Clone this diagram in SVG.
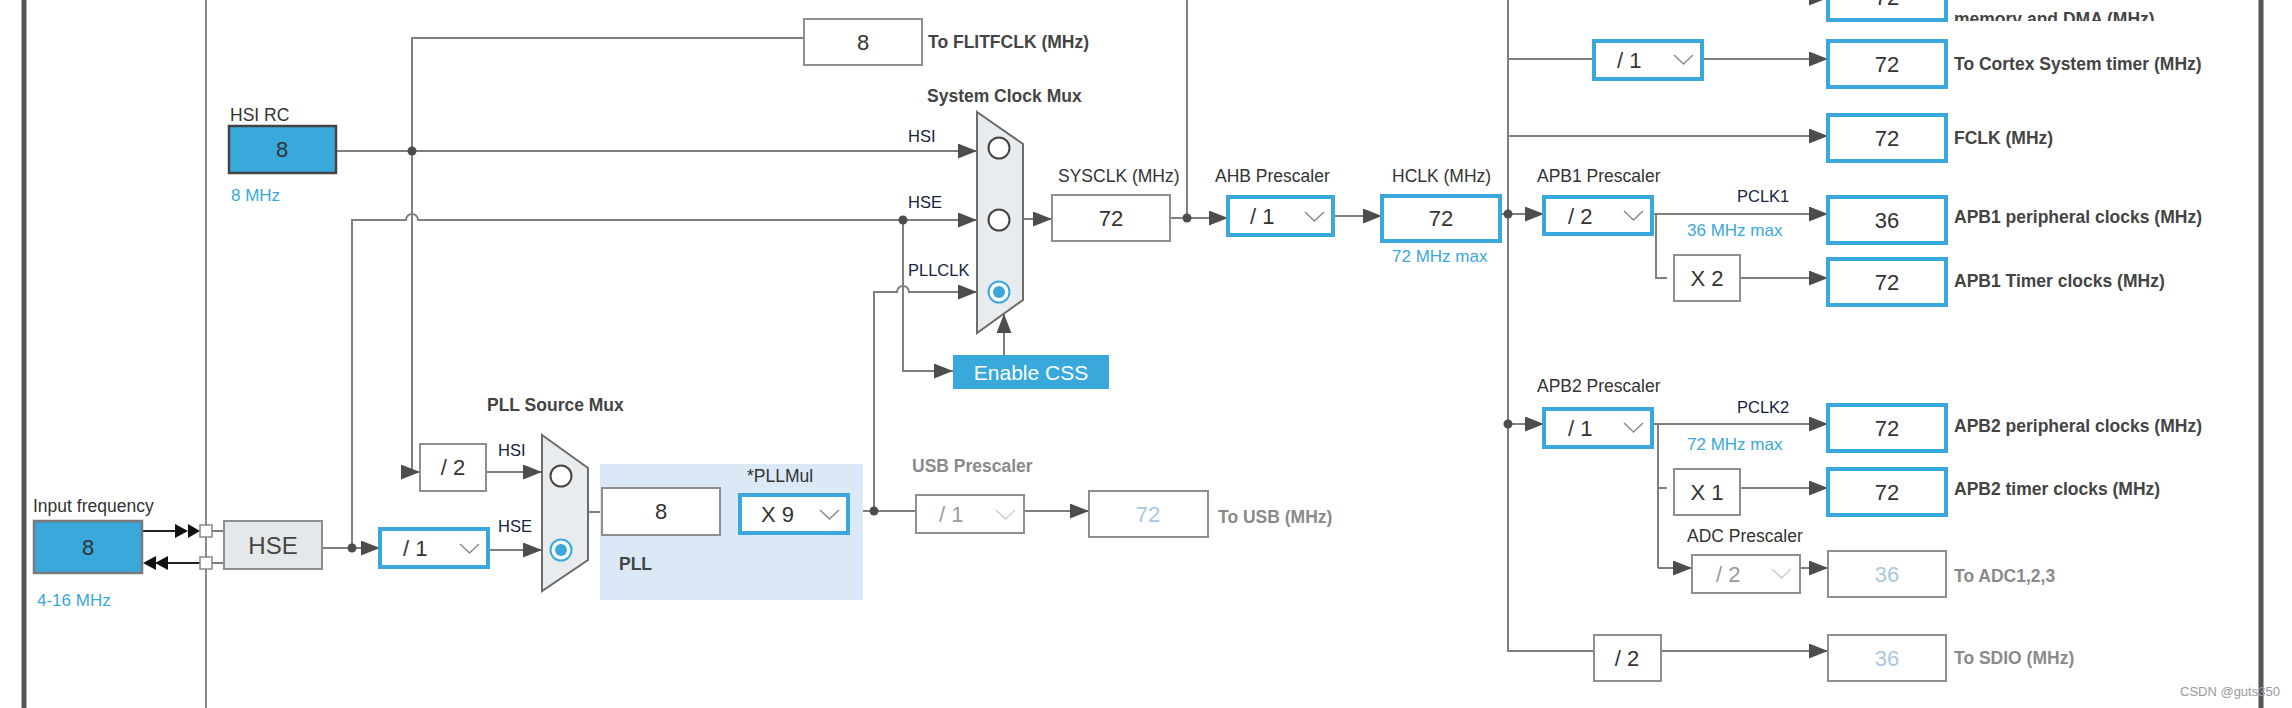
<svg xmlns="http://www.w3.org/2000/svg" width="2292" height="708" viewBox="0 0 2292 708">
<style>
text{font-family:"Liberation Sans",Arial,sans-serif}
.ln{fill:none;stroke:#7f7f7f;stroke-width:2}
.arr{marker-end:url(#ah)}
.dot{fill:#4d4d4d}
.box{fill:#fff;stroke:#8e8e8e;stroke-width:2}
.bbox{fill:#fff;stroke:#3aa8dc;stroke-width:4}
.num{font-size:22px;fill:#333;text-anchor:middle}
.dnum{font-size:22px;fill:#a9c7e3;text-anchor:middle}
.dd{font-size:22px;fill:#333}
.ddg{font-size:22px;fill:#9a9a9a}
.chev{fill:none;stroke:#8a8a8a;stroke-width:1.5}
.chevg{fill:none;stroke:#cdcdcd;stroke-width:1.5}
.lbl{font-size:17.5px;fill:#333}
.blbl{font-size:17.5px;font-weight:bold;fill:#444}
.glbl{font-size:17.5px;font-weight:bold;fill:#8a8a8a}
.nav{font-size:16.5px;fill:#14233f}
.blue{font-size:17px;fill:#3aa8dc}
.mux{fill:#e9ecef;stroke:#6b6b6b;stroke-width:2}
.rb{fill:#fff;stroke:#444;stroke-width:2}
.rbs{fill:#fff;stroke:#3aa8dc;stroke-width:2}
.frame{stroke:#555;stroke-width:5}
</style>
<defs>
<marker id="ah" markerUnits="userSpaceOnUse" markerWidth="19" markerHeight="15" refX="19" refY="7.5" orient="auto">
<path d="M0,0 L19,7.5 L0,15 z" fill="#4d4d4d"/>
</marker>
<clipPath id="clipTop"><rect x="1940" y="0" width="320" height="21"/></clipPath>
</defs>

<g id="frame">
<line class="frame" x1="24" y1="0" x2="24" y2="708"/>
<line x1="206" y1="0" x2="206" y2="708" stroke="#8a8a8a" stroke-width="2"/>
<line class="frame" x1="2261" y1="0" x2="2261" y2="708"/>
</g>

<g id="connectors">
<path class="ln arr" d="M336 151 H977"/>
<path class="ln arr" d="M804 38 H412 V472 H420"/>
<path class="ln arr" d="M486 472 H542"/>
<path class="ln" d="M322 548 H380"/>
<path class="ln arr" d="M352 548 H380"/>
<path class="ln arr" d="M488 550 H542"/>
<path class="ln arr" d="M352 548 V220 H406 a6 6 0 0 1 12 0 H977"/>
<path class="ln arr" d="M903 220 V371 H953"/>
<path class="ln" d="M588 512 H602"/>
<path class="ln" d="M720 512 H740"/>
<path class="ln" d="M848 511 H916"/>
<path class="ln arr" d="M874 511 V292 H897 a6 6 0 0 1 12 0 H977"/>
<path class="ln arr" d="M1024 511 H1089"/>
<line x1="142" y1="531" x2="176" y2="531" stroke="#222" stroke-width="2"/>
<path d="M175 524 L188 531 L175 538 z M188 524 L200 531 L188 538 z" fill="#111"/>
<line x1="166" y1="563" x2="200" y2="563" stroke="#222" stroke-width="2"/>
<path d="M156 556 L143 563 L156 570 z M168 556 L155 563 L168 570 z" fill="#111"/>
<path class="ln" d="M212 531 H224 M212 563 H224"/>
<path class="ln arr" d="M1004 355 V314"/>
<path class="ln arr" d="M1023 219 H1052"/>
<path class="ln arr" d="M1170 218 H1228"/>
<path class="ln" d="M1187 0 V218"/>
<path class="ln arr" d="M1333 216 H1382"/>
<path class="ln" d="M1500 214 H1508"/>
<path class="ln" d="M1508 0 V651 H1594"/>
<path class="ln arr" d="M1508 -2 H1828"/>
<path class="ln" d="M1508 59 H1594"/>
<path class="ln arr" d="M1702 59 H1828"/>
<path class="ln arr" d="M1508 136 H1828"/>
<path class="ln arr" d="M1508 214 H1544"/>
<path class="ln arr" d="M1652 214 H1828"/>
<path class="ln" d="M1656 214 V278 H1667"/>
<path class="ln arr" d="M1740 278 H1828"/>
<path class="ln arr" d="M1508 424 H1544"/>
<path class="ln arr" d="M1652 424 H1828"/>
<path class="ln" d="M1658 424 V568"/>
<path class="ln" d="M1658 488 H1667"/>
<path class="ln arr" d="M1740 488 H1828"/>
<path class="ln arr" d="M1658 568 H1692"/>
<path class="ln arr" d="M1800 568 H1828"/>
<path class="ln arr" d="M1661 651 H1828"/>
<circle class="dot" cx="412" cy="151" r="4.5"/>
<circle class="dot" cx="352" cy="548" r="4.5"/>
<circle class="dot" cx="903" cy="220" r="4.5"/>
<circle class="dot" cx="874" cy="511" r="4.5"/>
<circle class="dot" cx="1187" cy="218" r="4.5"/>
<circle class="dot" cx="1508" cy="214" r="4.5"/>
<circle class="dot" cx="1508" cy="424" r="4.5"/>
</g>

<g id="hsi-rc">
<text class="lbl" x="230" y="121">HSI RC</text>
<rect x="229" y="126" width="107" height="47" fill="#39a8db" stroke="#444" stroke-width="2.5"/>
<text class="num" x="282" y="157">8</text>
<text class="blue" x="231" y="201">8 MHz</text>
</g>

<g id="flitfclk">
<rect class="box" x="804" y="19" width="118" height="46"/>
<text class="num" x="863" y="50">8</text>
<text class="blbl" x="928" y="48">To FLITFCLK (MHz)</text>
</g>

<g id="input-frequency">
<text class="lbl" x="33" y="512">Input frequency</text>
<rect x="34" y="521" width="108" height="52" fill="#39a8db" stroke="#7a7a7a" stroke-width="2.5"/>
<text class="num" x="88" y="555">8</text>
<text class="blue" x="37" y="606">4-16 MHz</text>
</g>

<g id="pins">
<rect x="200" y="525" width="12" height="12" fill="#fff" stroke="#888" stroke-width="1.5"/>
<rect x="200" y="557" width="12" height="12" fill="#fff" stroke="#888" stroke-width="1.5"/>
</g>

<g id="hse">
<rect x="224" y="521" width="98" height="48" fill="#e5e8eb" stroke="#8e8e8e" stroke-width="2"/>
<text x="273" y="554" font-size="24" fill="#444" text-anchor="middle">HSE</text>
</g>

<g id="hse-div">
<rect class="bbox" x="380" y="529" width="108" height="38"/>
<text class="dd" x="403" y="556">/ 1</text>
<polyline class="chev" points="460,544 469.5,553 479,544"/>
</g>

<g id="hsi-div2">
<rect class="box" x="420" y="444" width="66" height="47"/>
<text class="num" x="453" y="475">/ 2</text>
</g>

<g id="pll-source-mux">
<text class="blbl" x="487" y="411">PLL Source Mux</text>
<text class="nav" x="498" y="456">HSI</text>
<text class="nav" x="498" y="532">HSE</text>
<polygon class="mux" points="542,435 588,468 588,560 542,591"/>
<circle class="rb" cx="561" cy="476" r="10.5"/>
<circle class="rbs" cx="561" cy="550" r="10.5"/>
<circle cx="561" cy="550" r="6" fill="#3aa8dc"/>
</g>

<g id="pll">
<rect x="600" y="464" width="263" height="136" fill="#dbe8f5"/>
<rect class="box" x="602" y="488" width="118" height="47"/>
<text class="num" x="661" y="519">8</text>
<text class="lbl" x="747" y="482">*PLLMul</text>
<rect class="bbox" x="740" y="495" width="108" height="38"/>
<text class="dd" x="761" y="522">X 9</text>
<polyline class="chev" points="820,510 829.5,519 839,510"/>
<text class="blbl" x="619" y="570">PLL</text>
</g>

<g id="usb">
<text class="glbl" x="912" y="472">USB Prescaler</text>
<rect class="box" x="916" y="495" width="108" height="38"/>
<text class="ddg" x="939" y="522">/ 1</text>
<polyline class="chevg" points="996,510 1005.5,519 1015,510"/>
<rect class="box" x="1089" y="491" width="119" height="46"/>
<text class="dnum" x="1148" y="522">72</text>
<text class="glbl" x="1218" y="523">To USB (MHz)</text>
</g>

<g id="system-clock-mux">
<text class="blbl" x="927" y="102">System Clock Mux</text>
<text class="nav" x="908" y="142">HSI</text>
<text class="nav" x="908" y="208">HSE</text>
<text class="nav" x="908" y="276">PLLCLK</text>
<polygon class="mux" points="977,112 1023,144 1023,300 977,333"/>
<circle class="rb" cx="999" cy="148" r="10.5"/>
<circle class="rb" cx="999" cy="220" r="10.5"/>
<circle class="rbs" cx="999" cy="292" r="10.5"/>
<circle cx="999" cy="292" r="6" fill="#3aa8dc"/>
</g>

<g id="enable-css">
<rect x="953" y="355" width="156" height="34" fill="#39a8db"/>
<text x="1031" y="380" font-size="21" fill="#fff" text-anchor="middle">Enable CSS</text>
</g>

<g id="sysclk">
<text class="lbl" x="1058" y="182">SYSCLK (MHz)</text>
<rect class="box" x="1052" y="195" width="118" height="46"/>
<text class="num" x="1111" y="226">72</text>
</g>

<g id="ahb">
<text class="lbl" x="1215" y="182">AHB Prescaler</text>
<rect class="bbox" x="1228" y="197" width="105" height="38"/>
<text class="dd" x="1250" y="224">/ 1</text>
<polyline class="chev" points="1305,212 1314.5,221 1324,212"/>
</g>

<g id="hclk">
<text class="lbl" x="1392" y="182">HCLK (MHz)</text>
<rect class="bbox" x="1382" y="196" width="118" height="45"/>
<text class="num" x="1441" y="226">72</text>
<text class="blue" x="1392" y="262">72 MHz max</text>
</g>

<g id="ahb-bus-out">
<rect class="bbox" x="1828" y="-26" width="118" height="46"/>
<text class="num" x="1887" y="5">72</text>
<text class="blbl" x="1954" y="25" clip-path="url(#clipTop)">memory and DMA (MHz)</text>
</g>

<g id="cortex">
<rect class="bbox" x="1594" y="41" width="108" height="38"/>
<text class="dd" x="1617" y="68">/ 1</text>
<polyline class="chev" points="1674,55 1683.5,64 1693,55"/>
<rect class="bbox" x="1828" y="41" width="118" height="46"/>
<text class="num" x="1887" y="72">72</text>
<text class="blbl" x="1954" y="70">To Cortex System timer (MHz)</text>
</g>

<g id="fclk">
<rect class="bbox" x="1828" y="115" width="118" height="46"/>
<text class="num" x="1887" y="146">72</text>
<text class="blbl" x="1954" y="144">FCLK (MHz)</text>
</g>

<g id="apb1">
<text class="lbl" x="1537" y="182">APB1 Prescaler</text>
<rect class="bbox" x="1544" y="197" width="108" height="37"/>
<text class="dd" x="1568" y="224">/ 2</text>
<polyline class="chev" points="1624,211 1633.5,220 1643,211"/>
<text class="nav" x="1737" y="202">PCLK1</text>
<text class="blue" x="1687" y="236">36 MHz max</text>
<rect class="bbox" x="1828" y="197" width="118" height="46"/>
<text class="num" x="1887" y="228">36</text>
<text class="blbl" x="1954" y="223">APB1 peripheral clocks (MHz)</text>
<rect class="box" x="1674" y="255" width="66" height="46"/>
<text class="num" x="1707" y="286">X 2</text>
<rect class="bbox" x="1828" y="259" width="118" height="46"/>
<text class="num" x="1887" y="290">72</text>
<text class="blbl" x="1954" y="287">APB1 Timer clocks (MHz)</text>
</g>

<g id="apb2">
<text class="lbl" x="1537" y="392">APB2 Prescaler</text>
<rect class="bbox" x="1544" y="409" width="108" height="38"/>
<text class="dd" x="1568" y="436">/ 1</text>
<polyline class="chev" points="1624,423 1633.5,432 1643,423"/>
<text class="nav" x="1737" y="413">PCLK2</text>
<text class="blue" x="1687" y="450">72 MHz max</text>
<rect class="bbox" x="1828" y="405" width="118" height="46"/>
<text class="num" x="1887" y="436">72</text>
<text class="blbl" x="1954" y="432">APB2 peripheral clocks (MHz)</text>
<rect class="box" x="1674" y="469" width="66" height="46"/>
<text class="num" x="1707" y="500">X 1</text>
<rect class="bbox" x="1828" y="469" width="118" height="46"/>
<text class="num" x="1887" y="500">72</text>
<text class="blbl" x="1954" y="495">APB2 timer clocks (MHz)</text>
</g>

<g id="adc">
<text class="lbl" x="1687" y="542">ADC Prescaler</text>
<rect class="box" x="1692" y="555" width="108" height="38"/>
<text class="ddg" x="1716" y="582">/ 2</text>
<polyline class="chevg" points="1772,569 1781.5,578 1791,569"/>
<rect class="box" x="1828" y="551" width="118" height="46"/>
<text class="dnum" x="1887" y="582">36</text>
<text class="glbl" x="1954" y="582">To ADC1,2,3</text>
</g>

<g id="sdio">
<rect class="box" x="1594" y="635" width="67" height="46"/>
<text class="num" x="1627" y="666">/ 2</text>
<rect class="box" x="1828" y="635" width="118" height="46"/>
<text class="dnum" x="1887" y="666">36</text>
<text class="glbl" x="1954" y="664">To SDIO (MHz)</text>
</g>

<text x="2180" y="696" font-size="13" fill="#9a9a9a">CSDN @guts350</text>
</svg>
